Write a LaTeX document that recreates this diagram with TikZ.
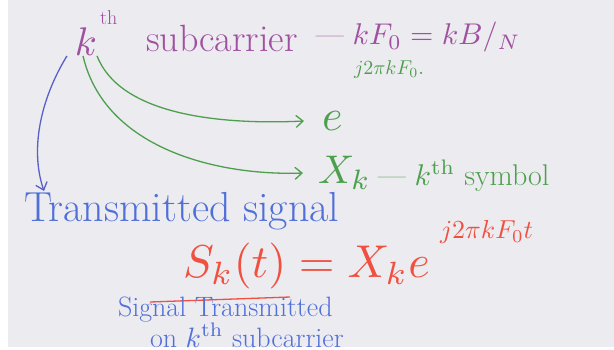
\documentclass[tikz,border=0pt]{standalone}
\usetikzlibrary{arrows.meta}
\definecolor{bgg}{HTML}{ECEBF0}
\definecolor{pur}{HTML}{A050A0}
\definecolor{grn}{HTML}{4CA04C}
\definecolor{blu}{HTML}{5A60C8}
\definecolor{blt}{HTML}{5070D8}
\definecolor{rd}{HTML}{F05040}
\newcommand\Mth[2]{\scalebox{#1}{\fontsize{10}{12}\selectfont$#2$}}
\begin{document}
\begin{tikzpicture}[x=1pt,y=-1pt,
  hand/.style={inner sep=0pt,outer sep=0pt},
  conn/.style={line width=1.3pt,-{Straight Barb[length=7pt,width=12pt]}},
  fs/.style={font=\fontsize{#1}{#1}\selectfont}]
\useasboundingbox (0,0) rectangle (614,349);
\fill[white] (0,0) rectangle (614,349);
\fill[bgg] (8,0) rectangle (614,347);
% top line
\node[hand,pur] (k) at (86,42) {\Mth{4}{k}};
\node[hand,pur,fs=20,anchor=west] (th) at (100,18) {th};
\node[hand,pur,fs=38,anchor=west] (sub) at (146,38) {subcarrier};
\node[hand,pur,fs=30,anchor=west] (kf) at (316,37) {--- \Mth{3}{kF_0 = kB/_N}};
% green
\node[hand,grn,anchor=west] (exp1) at (354,69) {\Mth{2}{j2\pi kF_0.}};
\node[hand,grn,anchor=west] (e) at (322,121) {\Mth{4.4}{e}};
\node[hand,grn,anchor=west] (xk) at (318,173) {\Mth{4}{X_k}};
\node[hand,grn,fs=30,anchor=west] (sym) at (378,176) {--- \Mth{3}{k^{\mathrm{th}}} symbol};
\draw[conn,grn] (k.south east) .. controls (120,115) and (220,125) .. ([xshift=-18pt]e.west);
\draw[conn,grn] ([xshift=-3pt]k.south) .. controls (105,150) and (220,176) .. ([xshift=-15pt]xk.west);
% blue
\node[hand,blt,fs=42,anchor=west] (ts) at (24,211) {Transmitted signal};
\coordinate (bend) at (44,191);
\draw[conn,blu] ([xshift=-8pt]k.south west) .. controls (40,100) and (30,150) .. (bend);
% red equation
\node[hand,rd,anchor=west] (exp2) at (440,232) {\Mth{2.6}{j2\pi kF_0t}};
\node[hand,rd,anchor=west] (eq) at (183,266) {\Mth{4.6}{S_k(t) = X_k e}};
\coordinate (u1) at (150,302);
\coordinate (u2) at (290,297);
\draw[rd,line width=1.3pt] (u1) -- (u2);
% blue note
\node[hand,blt,align=left,anchor=north west,font=\fontsize{28}{18.5}\selectfont] (note) at (118,297)
  {Signal Transmitted\\\hspace*{32pt}on \Mth{2.8}{k^{\mathrm{th}}} subcarrier};
\end{tikzpicture}
\end{document}
